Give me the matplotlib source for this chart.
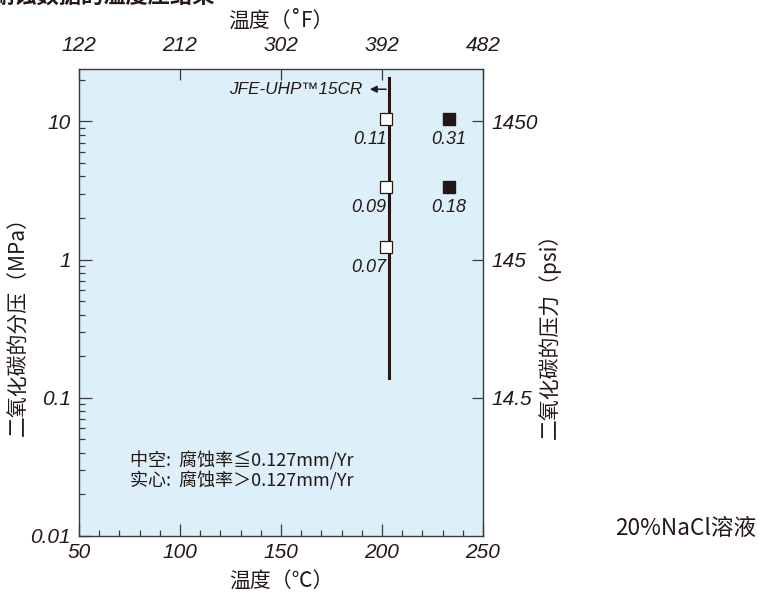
# 二氧化碳腐蚀试验结果：温度与分压

import numpy as np
import matplotlib
matplotlib.use('Agg')
import matplotlib.pyplot as plt
from matplotlib.ticker import FixedLocator, NullLocator, LogLocator, NullFormatter

plt.rcParams['font.family'] = ['Noto Sans CJK SC', 'DejaVu Sans']

# 数据
open_temp = [202, 202, 202]
open_press = [10.5, 3.36, 1.24]
open_rate = ['0.11', '0.09', '0.07']

solid_temp = [233, 233]
solid_press = [10.5, 3.36]
solid_rate = ['0.31', '0.18']

limit_temp = [203.6, 203.6]
limit_press = [0.14, 20.5]

c_ticks = [50, 100, 150, 200, 250]
f_labels = ['122', '212', '302', '392', '482']
mpa_ticks = [0.01, 0.1, 1, 10]
mpa_labels = ['0.01', '0.1', '1', '10']
psi_ticks = [0.1, 1, 10]
psi_labels = ['14.5', '145', '1450']

num_font = dict(family=['Liberation Sans', 'DejaVu Sans'], style='italic')
ink = '#231815'
tick_fs = 15
label_fs = 15

fig = plt.figure(figsize=(7.63, 5.95), dpi=100)
ax = fig.add_axes([0.1035, 0.0992, 0.5295, 0.785])
ax.set_facecolor('#ddf0fa')
for s in ax.spines.values():
    s.set_color('#3a3a3a')
    s.set_linewidth(1.0)

ax.set_xlim(50, 250)
ax.set_yscale('log')
ax.set_ylim(0.01, 24)

# 200℃ 限界线
ax.plot(limit_temp, limit_press, color=ink, lw=2.2, zorder=2)
ax.plot(open_temp, open_press, 's', ms=8.5, mfc='white', mec=ink, mew=0.9, zorder=3)
ax.plot(solid_temp, solid_press, 's', ms=8.5, mfc=ink, mec=ink, zorder=3)

for t, p, r in zip(open_temp, open_press, open_rate):
    ax.annotate(r, (t, p), xytext=(0.5, -9), textcoords='offset points',
                ha='right', va='top', fontsize=13, color=ink, **num_font)
for t, p, r in zip(solid_temp, solid_press, solid_rate):
    ax.annotate(r, (t, p), xytext=(0, -9), textcoords='offset points',
                ha='center', va='top', fontsize=13, color=ink, **num_font)

ax.annotate('', xy=(192.6, 17.1), xytext=(203.4, 17.1),
            arrowprops=dict(arrowstyle='-|>', color=ink, lw=1.1, mutation_scale=10))
ax.text(190.5, 17.1, 'JFE-UHP™15CR', ha='right', va='center',
        fontsize=12.3, color=ink, **num_font)

ax.text(75.2, 0.0296, '中空:  腐蚀率≦0.127mm/Yr\n实心:  腐蚀率＞0.127mm/Yr',
        fontsize=13, color=ink, ha='left', va='center', linespacing=1.1)

# 下轴 ℃
ax.xaxis.set_major_locator(FixedLocator(c_ticks))
ax.xaxis.set_minor_locator(FixedLocator(np.arange(60, 250, 10)))
ax.set_xticklabels(c_ticks, fontsize=tick_fs, color=ink, **num_font)
ax.tick_params(axis='x', which='major', direction='in', length=9, width=0.9,
               color='#3a3a3a', pad=5, top=False)
ax.tick_params(axis='x', which='minor', direction='in', length=4, width=0.9,
               color='#3a3a3a', top=False)
ax.set_xlabel('温度（℃）', fontsize=label_fs, color=ink, labelpad=6)

# 左轴 MPa
ax.yaxis.set_major_locator(FixedLocator(mpa_ticks))
ax.yaxis.set_minor_locator(LogLocator(base=10, subs=np.arange(2, 10)))
ax.yaxis.set_minor_formatter(NullFormatter())
ax.set_yticklabels(mpa_labels, fontsize=tick_fs, color=ink, **num_font)
ax.tick_params(axis='y', which='major', direction='in', length=9, width=0.9,
               color='#3a3a3a', pad=6, right=False)
ax.tick_params(axis='y', which='minor', direction='in', length=4, width=0.9,
               color='#3a3a3a', right=False)
ax.set_ylabel('二氧化碳的分压（MPa）', fontsize=label_fs, color=ink)
ax.yaxis.set_label_coords(-0.121, 0.46)

# 上轴 ℉
axt = ax.twiny()
axt.set_xlim(ax.get_xlim())
axt.xaxis.set_major_locator(FixedLocator(c_ticks))
axt.xaxis.set_minor_locator(NullLocator())
axt.set_xticklabels(f_labels, fontsize=tick_fs, color=ink, **num_font)
axt.tick_params(axis='x', direction='in', length=8, width=0.9, color='#3a3a3a', pad=10)
axt.set_xlabel('温度（˚F）', fontsize=label_fs, color=ink, labelpad=7)
for s in axt.spines.values():
    s.set_visible(False)

# 右轴 psi
axr = ax.twinx()
axr.set_yscale('log')
axr.set_ylim(ax.get_ylim())
axr.yaxis.set_major_locator(FixedLocator(psi_ticks))
axr.yaxis.set_minor_locator(NullLocator())
axr.set_yticklabels(psi_labels, fontsize=tick_fs, color=ink, **num_font)
axr.tick_params(axis='y', direction='in', length=8, width=0.9, color='#3a3a3a', pad=6)
axr.set_ylabel('二氧化碳的压力（psi）', fontsize=label_fs, color=ink)
axr.yaxis.set_label_coords(1.136, 0.44)
for s in axr.spines.values():
    s.set_visible(False)

fig.text(0.806, 0.111, '20%NaCl溶液', fontsize=16.3, color=ink, ha='left', va='center')
# 截断的标题
fig.text(-0.01, 0.987, '耐蚀数据的温度压结果', fontsize=16, color=ink, ha='left',
         va='bottom', fontweight='bold')

fig.savefig('out.png', dpi=100)
